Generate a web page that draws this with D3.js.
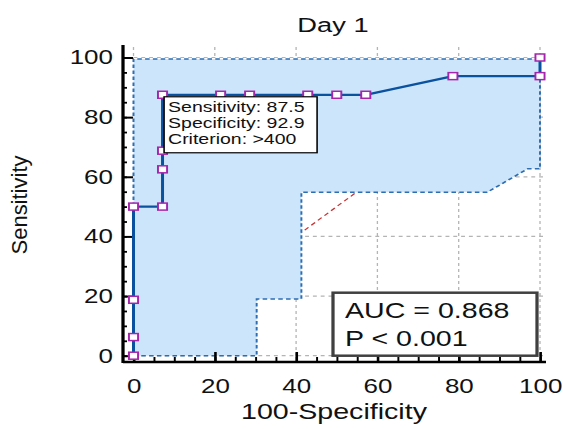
<!DOCTYPE html>
<html>
<head>
<meta charset="utf-8">
<script src="https://cdn.jsdelivr.net/npm/d3@7"></script>
<style>
  html, body { margin: 0; padding: 0; background: #fff; }
  svg { display: block; font-family: "Liberation Sans", Arial, sans-serif; }
</style>
</head>
<body>
<svg id="chart"></svg>
<script>
const W = 563, H = 429;
// the original picture is stretched sideways, so draw in narrower units
const S = 1.3;
const VW = W / S;

const xTicks = [0, 20, 40, 60, 80, 100];
const yTicks = [0, 20, 40, 60, 80, 100];
const minorTicks = [0, 5, 10, 15, 20, 25, 30, 35, 40, 45, 50, 55, 60, 65, 70, 75, 80, 85, 90, 95, 100];

// ROC curve (100-specificity, sensitivity)
const rocX = [0, 0, 0, 0, 7.14, 7.14, 7.14, 7.14, 21.43, 28.57, 42.86, 50, 57.14, 78.57, 100, 100];
const rocY = [0, 6.25, 18.75, 50, 50, 62.5, 68.75, 87.5, 87.5, 87.5, 87.5, 87.5, 87.5, 93.75, 93.75, 100];

// confidence band
const ciLowX = [0, 30.3, 30.3, 41.3, 41.3, 87, 97, 100];
const ciLowY = [0, 0, 19, 19, 54.8, 54.8, 62.7, 62.7];
const ciHighX = [100, 0];
const ciHighY = [99.5, 99.5];

const tipLines = ['Sensitivity: 87.5', 'Specificity: 92.9', 'Criterion: >400'];
const tipIndex = 7;
const aucLines = ['AUC = 0.868', 'P < 0.001'];

const svg = d3.select('#chart')
    .attr('width', W)
    .attr('height', H)
    .attr('viewBox', '0 0 ' + VW + ' ' + H)
    .attr('preserveAspectRatio', 'none');

const x = d3.scaleLinear().domain([0, 100]).range([133.5 / S, 540 / S]);
const y = d3.scaleLinear().domain([0, 100]).range([355.7, 57.5]);

const axisX = 123 / S;   // y axis line position
const axisY = 362;       // x axis line position
const topY = 45, rightX = 546 / S;

// grid
svg.append('g')
    .selectAll('line')
    .data(xTicks)
    .enter()
    .append('line')
    .attr('x1', d => x(d)).attr('x2', d => x(d))
    .attr('y1', 47).attr('y2', y(0))
    .attr('stroke', '#b4b4b4')
    .attr('stroke-width', 1)
    .attr('stroke-dasharray', '3,3');

svg.append('g')
    .selectAll('line')
    .data(yTicks)
    .enter()
    .append('line')
    .attr('x1', x(0)).attr('x2', rightX)
    .attr('y1', d => y(d)).attr('y2', d => y(d))
    .attr('stroke', '#b4b4b4')
    .attr('stroke-width', 1.2)
    .attr('stroke-dasharray', '3,3');

// reference diagonal
svg.append('line')
    .attr('x1', x(0)).attr('y1', y(0))
    .attr('x2', x(100)).attr('y2', y(100))
    .attr('stroke', '#c83232')
    .attr('stroke-width', 1.1)
    .attr('stroke-dasharray', '4,3');

// confidence band
let band = ciLowX.map((v, i) => [v, ciLowY[i]])
    .concat(ciHighX.map((v, i) => [v, ciHighY[i]]));

svg.append('path')
    .attr('d', d3.line().x(d => x(d[0])).y(d => y(d[1]))(band) + 'Z')
    .attr('fill', '#cce5fb')
    .attr('stroke', '#2c6db3')
    .attr('stroke-width', 1.5)
    .attr('stroke-dasharray', '3.5,2.5');

// axes
svg.append('g')
    .attr('transform', 'translate(' + axisX + ',0)')
    .call(d3.axisLeft(y).tickValues(minorTicks).tickSize(-4 / S).tickFormat(''))
    .call(g => g.select('.domain').remove())
    .call(g => g.selectAll('line').attr('stroke', '#000').attr('stroke-width', 1.8));

svg.append('g')
    .attr('transform', 'translate(' + axisX + ',0)')
    .call(d3.axisLeft(y).tickValues(yTicks).tickSize(-10 / S).tickPadding(10 / S))
    .call(g => g.select('.domain').remove())
    .call(g => g.selectAll('line').attr('stroke', '#000').attr('stroke-width', 2))
    .call(g => g.selectAll('text')
        .attr('font-size', 20)
        .attr('font-family', '"Liberation Sans", Arial, sans-serif')
        .attr('fill', '#111'));

svg.append('g')
    .attr('transform', 'translate(0,' + axisY + ')')
    .call(d3.axisBottom(x).tickValues(minorTicks).tickSize(-5).tickFormat(''))
    .call(g => g.select('.domain').remove())
    .call(g => g.selectAll('line').attr('stroke', '#000').attr('stroke-width', 1.5));

svg.append('g')
    .attr('transform', 'translate(0,' + axisY + ')')
    .call(d3.axisBottom(x).tickValues(xTicks).tickSize(-10).tickPadding(17))
    .call(g => g.select('.domain').remove())
    .call(g => g.selectAll('line').attr('stroke', '#000').attr('stroke-width', 2))
    .call(g => g.selectAll('text')
        .attr('font-size', 20)
        .attr('font-family', '"Liberation Sans", Arial, sans-serif')
        .attr('fill', '#111'));

svg.append('line')
    .attr('x1', axisX).attr('x2', axisX)
    .attr('y1', topY).attr('y2', axisY + 1)
    .attr('stroke', '#000').attr('stroke-width', 2.5);

svg.append('line')
    .attr('x1', axisX).attr('x2', rightX)
    .attr('y1', axisY).attr('y2', axisY)
    .attr('stroke', '#000').attr('stroke-width', 2.5);

// ROC curve
let pts = rocX.map((v, i) => [v, rocY[i]]);

svg.append('path')
    .attr('d', d3.line().x(d => x(d[0])).y(d => y(d[1]))(pts))
    .attr('fill', 'none')
    .attr('stroke', '#0a52a0')
    .attr('stroke-width', 2.3);

svg.append('g')
    .selectAll('rect')
    .data(pts)
    .enter()
    .append('rect')
    .attr('x', d => x(d[0]) - 3.5)
    .attr('y', d => y(d[1]) - 3.5)
    .attr('width', 7)
    .attr('height', 7)
    .attr('fill', '#fff')
    .attr('stroke', '#a526ab')
    .attr('stroke-width', 1.5);

// criterion box
let bx = x(rocX[tipIndex]) + 1.2, by = y(rocY[tipIndex]) + 2;

svg.append('rect')
    .attr('x', bx).attr('y', by)
    .attr('width', 153 / S).attr('height', 56)
    .attr('fill', '#fff')
    .attr('stroke', '#000')
    .attr('stroke-width', 1.2);

svg.append('g')
    .selectAll('text')
    .data(tipLines)
    .enter()
    .append('text')
    .attr('x', bx + 4 / S)
    .attr('y', (d, i) => by + 15.5 + i * 16)
    .attr('font-size', 15)
    .attr('fill', '#111')
    .text(d => d);

// AUC box
let aw = 204 / S, ah = 63;
let ax = x(100) - 3 / S - aw, ay = y(0) - ah;

svg.append('rect')
    .attr('x', ax).attr('y', ay)
    .attr('width', aw).attr('height', ah)
    .attr('fill', '#fff')
    .attr('stroke', '#404040')
    .attr('stroke-width', 2.5);

svg.append('g')
    .selectAll('text')
    .data(aucLines)
    .enter()
    .append('text')
    .attr('x', ax + 12 / S)
    .attr('y', (d, i) => ay + 25 + i * 28)
    .attr('font-size', 22)
    .attr('fill', '#111')
    .text(d => d);

// titles
svg.append('text')
    .attr('x', 333 / S)
    .attr('y', 32)
    .attr('text-anchor', 'middle')
    .attr('font-size', 21)
    .attr('fill', '#111')
    .text('Day 1');

svg.append('text')
    .attr('x', 334 / S)
    .attr('y', 419)
    .attr('text-anchor', 'middle')
    .attr('font-size', 22)
    .attr('fill', '#111')
    .text('100-Specificity');

svg.append('text')
    .attr('transform', 'translate(' + (22 / S) + ',205) scale(' + (1 / S) + ',1) rotate(-90)')
    .attr('text-anchor', 'middle')
    .attr('dy', '0.25em')
    .attr('font-size', 22)
    .attr('fill', '#111')
    .text('Sensitivity');
</script>
</body>
</html>
